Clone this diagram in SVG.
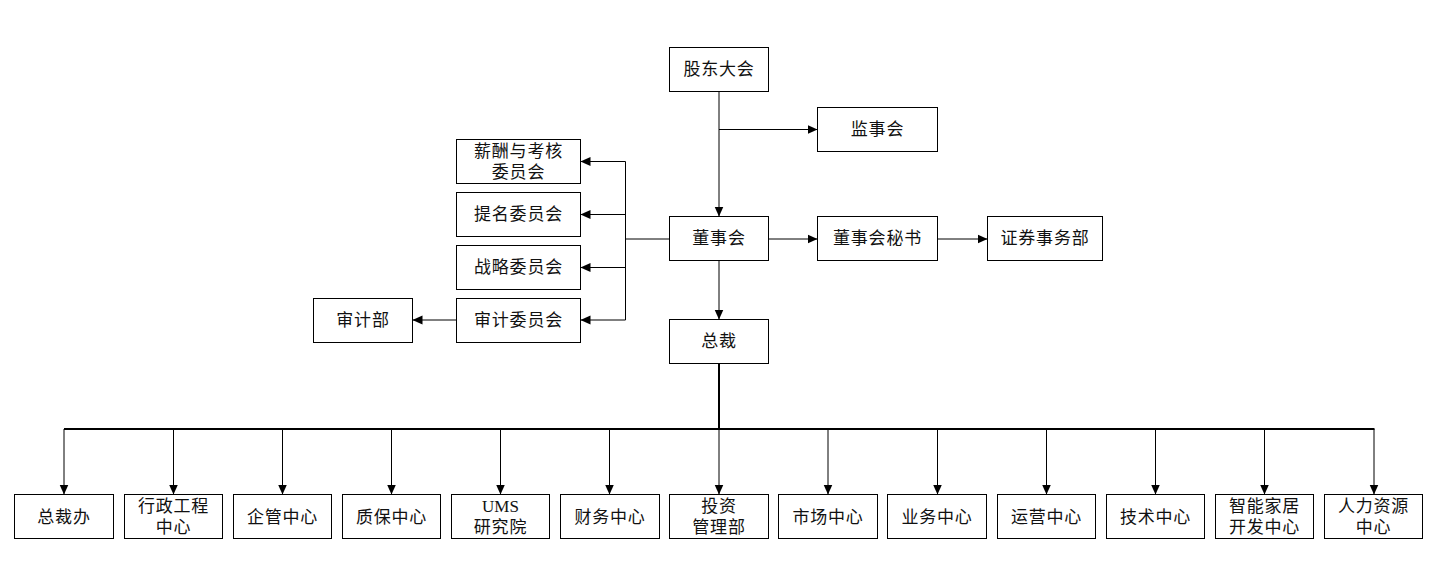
<svg xmlns="http://www.w3.org/2000/svg" width="1432" height="583" viewBox="0 0 1432 583">
<style>
.box{fill:#fff;stroke:#000;stroke-width:1}
.t{font-family:"Liberation Serif","Noto Sans CJK SC",serif;font-size:17px;letter-spacing:0.8px;fill:#111;text-anchor:middle;dominant-baseline:central}
.c{fill:none;stroke:#000;stroke-width:1}
.bus{fill:none;stroke:#000;stroke-width:2}
</style>
<defs>
<marker id="ar" markerUnits="userSpaceOnUse" markerWidth="10" markerHeight="10" refX="10" refY="5" orient="auto">
<path d="M0,0.5 L10,5 L0,9.5 z" fill="#000"/>
</marker>
</defs>
<rect width="1432" height="583" fill="#fff"/>
<g id="connectors">
<path class="c" d="M719,91.5 V216.5" marker-end="url(#ar)"/>
<path class="c" d="M719,129.5 H817.5" marker-end="url(#ar)"/>
<path class="c" d="M768.5,239 H817.5" marker-end="url(#ar)"/>
<path class="c" d="M937.5,239 H987.5" marker-end="url(#ar)"/>
<path class="c" d="M719,260.5 V319.5" marker-end="url(#ar)"/>
<path class="c" d="M669.5,239 H625.5"/>
<path class="c" d="M625.5,161.5 V320"/>
<path class="c" d="M625.5,161.5 H580.5" marker-end="url(#ar)"/>
<path class="c" d="M625.5,214.5 H580.5" marker-end="url(#ar)"/>
<path class="c" d="M625.5,267.5 H580.5" marker-end="url(#ar)"/>
<path class="c" d="M625.5,320 H580.5" marker-end="url(#ar)"/>
<path class="c" d="M456.5,320 H412.5" marker-end="url(#ar)"/>
<path class="bus" d="M719,363.5 V429"/>
<path class="bus" d="M64,429 H1374.5"/>
<path class="c" d="M64,429 V494.5" marker-end="url(#ar)"/>
<path class="c" d="M173.5,429 V494.5" marker-end="url(#ar)"/>
<path class="c" d="M282.5,429 V494.5" marker-end="url(#ar)"/>
<path class="c" d="M391.5,429 V494.5" marker-end="url(#ar)"/>
<path class="c" d="M500.5,429 V494.5" marker-end="url(#ar)"/>
<path class="c" d="M609.5,429 V494.5" marker-end="url(#ar)"/>
<path class="c" d="M719,429 V494.5" marker-end="url(#ar)"/>
<path class="c" d="M828,429 V494.5" marker-end="url(#ar)"/>
<path class="c" d="M937.5,429 V494.5" marker-end="url(#ar)"/>
<path class="c" d="M1046.5,429 V494.5" marker-end="url(#ar)"/>
<path class="c" d="M1155.5,429 V494.5" marker-end="url(#ar)"/>
<path class="c" d="M1264.5,429 V494.5" marker-end="url(#ar)"/>
<path class="c" d="M1374,429 V494.5" marker-end="url(#ar)"/>
</g>
<g id="n-gudong"><rect class="box" x="669.5" y="47.5" width="99" height="44"/><text class="t" x="719" y="69.5">股东大会</text></g>
<g id="n-jianshi"><rect class="box" x="817.5" y="107.5" width="120" height="44"/><text class="t" x="877.5" y="129.5">监事会</text></g>
<g id="n-xinchou"><rect class="box" x="456.5" y="139.5" width="124" height="44"/><text class="t" x="518.5" y="151.5">薪酬与考核</text><text class="t" x="518.5" y="172">委员会</text></g>
<g id="n-timing"><rect class="box" x="456.5" y="192.5" width="124" height="44"/><text class="t" x="518.5" y="214.5">提名委员会</text></g>
<g id="n-zhanlue"><rect class="box" x="456.5" y="245.5" width="124" height="44"/><text class="t" x="518.5" y="267.5">战略委员会</text></g>
<g id="n-shenjiwy"><rect class="box" x="456.5" y="298.5" width="124" height="44"/><text class="t" x="518.5" y="320.5">审计委员会</text></g>
<g id="n-shenjibu"><rect class="box" x="313.5" y="298.5" width="99" height="44"/><text class="t" x="363" y="320.5">审计部</text></g>
<g id="n-dongshi"><rect class="box" x="669.5" y="216.5" width="99" height="44"/><text class="t" x="719" y="238.5">董事会</text></g>
<g id="n-mishu"><rect class="box" x="817.5" y="216.5" width="120" height="44"/><text class="t" x="877.5" y="238.5">董事会秘书</text></g>
<g id="n-zhengquan"><rect class="box" x="987.5" y="216.5" width="115" height="44"/><text class="t" x="1045" y="238.5">证券事务部</text></g>
<g id="n-zongcai"><rect class="box" x="669.5" y="319.5" width="99" height="44"/><text class="t" x="719" y="341.5">总裁</text></g>
<g id="n-b1"><rect class="box" x="14.5" y="494.5" width="99" height="44"/><text class="t" x="64" y="517">总裁办</text></g>
<g id="n-b2"><rect class="box" x="124.5" y="494.5" width="98" height="44"/><text class="t" x="173.5" y="506">行政工程</text><text class="t" x="173.5" y="527.5">中心</text></g>
<g id="n-b3"><rect class="box" x="233.5" y="494.5" width="98" height="44"/><text class="t" x="282.5" y="517">企管中心</text></g>
<g id="n-b4"><rect class="box" x="342.5" y="494.5" width="98" height="44"/><text class="t" x="391.5" y="517">质保中心</text></g>
<g id="n-b5"><rect class="box" x="451.5" y="494.5" width="98" height="44"/><text class="t" x="500.5" y="506" style="letter-spacing:0">UMS</text><text class="t" x="500.5" y="527.5">研究院</text></g>
<g id="n-b6"><rect class="box" x="560.5" y="494.5" width="99" height="44"/><text class="t" x="610" y="517">财务中心</text></g>
<g id="n-b7"><rect class="box" x="669.5" y="494.5" width="99" height="44"/><text class="t" x="719" y="506">投资</text><text class="t" x="719" y="527.5">管理部</text></g>
<g id="n-b8"><rect class="box" x="778.5" y="494.5" width="99" height="44"/><text class="t" x="828" y="517">市场中心</text></g>
<g id="n-b9"><rect class="box" x="887.5" y="494.5" width="99" height="44"/><text class="t" x="937" y="517">业务中心</text></g>
<g id="n-b10"><rect class="box" x="997.5" y="494.5" width="98" height="44"/><text class="t" x="1046.5" y="517">运营中心</text></g>
<g id="n-b11"><rect class="box" x="1106.5" y="494.5" width="98" height="44"/><text class="t" x="1155.5" y="517">技术中心</text></g>
<g id="n-b12"><rect class="box" x="1215.5" y="494.5" width="98" height="44"/><text class="t" x="1264.5" y="506">智能家居</text><text class="t" x="1264.5" y="527.5">开发中心</text></g>
<g id="n-b13"><rect class="box" x="1324.5" y="494.5" width="98" height="44"/><text class="t" x="1373.5" y="506">人力资源</text><text class="t" x="1373.5" y="527.5">中心</text></g>
</svg>
